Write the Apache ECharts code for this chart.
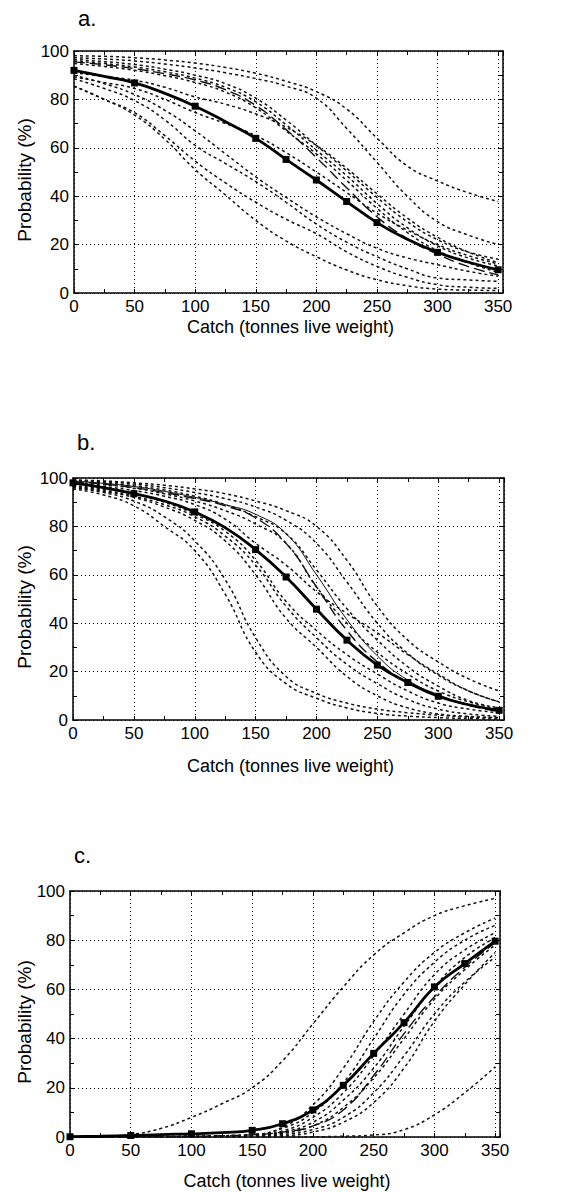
<!DOCTYPE html>
<html>
<head>
<meta charset="utf-8">
<script src="https://cdn.jsdelivr.net/npm/echarts@6/dist/echarts.min.js"></script>
<style>
  html, body { margin: 0; padding: 0; background: #fff; }
  #main { width: 579px; height: 1192px; }
</style>
</head>
<body>
<div id="main"></div>
<script>
// catch levels (tonnes live weight) where curves were read
var catchX = [0, 25, 50, 75, 100, 125, 150, 175, 200, 225, 250, 275, 300, 325, 350];
var xTicks = [0, 50, 100, 150, 200, 250, 300, 350];
var yTicks = [0, 20, 40, 60, 80, 100];
var panelNames = ['a.', 'b.', 'c.'];

// panel a
var mainA = [92, 89.5, 86.8, 82.5, 77.2, 70.8, 63.9, 55.2, 46.7, 37.8, 29.1, 22.2, 16.8, 12.8, 9.6];
var markA = [0, 50, 100, 150, 175, 200, 225, 250, 300, 350];
var dashA = [95.5, 94.3, 92.7, 90.6, 88, 84, 77.5, 67.5, 56, 43.5, 31.5, 22.5, 16, 11, 7.5];
var dottedA = [
  [98, 97.8, 97.2, 96.3, 95, 93.2, 90.8, 87.5, 83.2, 76, 64, 52.5, 46.3, 41.5, 37.8],
  [97.2, 96.7, 95.9, 94.6, 93, 91, 88.6, 85.5, 80.5, 68, 54, 40, 29.5, 24, 20],
  [96.5, 95.6, 94.4, 92.5, 90, 86.5, 80.5, 71.5, 61, 50.5, 39.5, 29.5, 22, 17, 14],
  [95.8, 94.8, 93.4, 91.4, 88.8, 85, 79, 69.5, 59, 48.5, 37, 27, 19.5, 14.5, 11.2],
  [94.8, 93.6, 92, 89.8, 87, 83, 76.5, 67, 57.5, 46.5, 35, 25, 17.5, 12.5, 8.6],
  [91, 89.5, 87.9, 85, 81, 78, 74, 68.5, 61, 51.5, 41, 31, 23, 17, 12.5],
  [89.3, 87, 84.5, 80, 74.6, 70, 65, 58, 50, 41.5, 33, 26, 20, 15.5, 12],
  [90, 86.5, 82, 75.5, 67, 57.5, 48, 39.5, 31.5, 24.5, 18.5, 14.5, 11.7, 9, 6.9],
  [88.5, 84.5, 79.5, 71.5, 61, 53.5, 46, 37.5, 28.5, 21, 15, 10, 6.2, 5.4, 4.8],
  [85.5, 80, 74.5, 65, 54.5, 45.5, 37.5, 30.5, 24.5, 17, 11, 6.5, 3.4, 2.4, 1.9],
  [85.5, 80, 73.5, 63.5, 51, 40.5, 30, 21.5, 15, 9.5, 5.5, 3, 1.6, 1.2, 1]
];

// panel b
var mainB = [98, 96, 93.5, 90.5, 86, 79.5, 70.4, 59.1, 45.8, 33, 22.7, 15.5, 9.8, 6.3, 4];
var markB = [0, 50, 100, 150, 175, 200, 225, 250, 275, 300, 350];
var dashB = [98.5, 97.5, 96, 94, 91.5, 88.5, 83.5, 73, 55, 37, 24, 15.5, 10, 6, 3.5];
var thinB = [98.8, 97.8, 96.5, 94.5, 92, 89, 85, 77, 60, 41.5, 26.5, 16.5, 10.5, 6.5, 4];
var dottedB = [
  [99.2, 98.8, 98, 97, 95.5, 93.5, 90.5, 86.5, 80, 66, 47, 33, 24, 17, 12],
  [99, 98.5, 97.5, 96, 94, 91.5, 88, 82.5, 73, 57, 40, 27.5, 18.5, 12, 7.5],
  [98.8, 98, 96.8, 95, 92.5, 89, 84, 77, 62, 46, 33, 22, 14, 8, 5],
  [98.2, 97.2, 95.8, 93.5, 90.5, 86.5, 81, 73, 55, 40, 28, 19, 12, 7.5, 4.5],
  [97.8, 96.5, 94.8, 92.5, 89, 83, 73, 64, 53, 44, 36, 27, 19, 12, 7.5],
  [96, 94, 90.5, 84, 74, 58, 34, 18, 11, 7, 4.5, 3, 2, 1.2, 0.8],
  [95.5, 93, 88.5, 80, 70, 52, 28, 15, 9, 5, 2.7, 1.6, 1, 0.6, 0.3],
  [97, 95.5, 93.5, 90, 85, 78, 66, 49, 37, 27, 19, 12, 7, 4.5, 3],
  [96.5, 95, 92.5, 89, 84, 76, 64, 47, 34, 23, 15, 8.5, 4.5, 2.5, 1.5],
  [96.2, 94.5, 92, 88, 82.5, 74, 60, 42, 30, 18, 10, 5, 2.5, 1.5, 1]
];

// panel c
var mainC = [0.1, 0.3, 0.6, 1, 1.3, 1.8, 2.7, 5.4, 11, 21, 34, 46.5, 61, 70.5, 79.6];
var markC = [0, 50, 100, 150, 175, 200, 225, 250, 275, 300, 325, 350];
var dashC = [0, 0.05, 0.1, 0.2, 0.3, 0.5, 0.9, 2, 4.5, 11, 25, 42, 57, 69, 79];
var dottedC = [
  [0, 0.2, 1, 3.5, 8, 13.5, 20, 31, 46, 61, 74, 83, 90, 94, 97],
  [0, 0, 0, 0, 0, 0, 0, 0, 0.1, 0.3, 0.8, 3, 9, 18, 28.5],
  [0, 0, 0.1, 0.2, 0.3, 0.5, 1, 4, 13, 28, 47, 63, 75, 83, 89],
  [0, 0, 0.1, 0.2, 0.3, 0.5, 1, 3.5, 10, 22, 40, 58, 71, 80, 86],
  [0, 0, 0, 0.1, 0.2, 0.4, 0.8, 2.5, 8, 18, 33, 50, 66, 76, 83],
  [0, 0, 0, 0.1, 0.2, 0.3, 0.5, 2, 6, 15, 28, 45, 61, 73, 81],
  [0, 0, 0, 0, 0.1, 0.2, 0.4, 1.5, 4.5, 12, 24, 40, 56, 68, 78],
  [0, 0, 0, 0, 0.1, 0.1, 0.2, 1, 3, 8, 18, 33, 50, 63, 73],
  [0, 0, 0, 0, 0, 0.1, 0.1, 0.5, 2, 6, 14, 28, 47, 62, 75]
];

var FONT = '"Liberation Sans", Arial, sans-serif';

// plot boxes
var grids = [
  { left: 74, top: 51, width: 429, height: 242 },
  { left: 73, top: 478, width: 431, height: 242 },
  { left: 70, top: 891, width: 430, height: 246 }
];

var chart = echarts.init(document.getElementById('main'), null, { renderer: 'svg' });

function xAxisFor(gi, pos) {
  var bottom = pos === 'bottom';
  return {
    type: 'value', gridIndex: gi, position: pos,
    min: 0, max: 354, interval: 50,
    axisLine: { show: true, onZero: false, lineStyle: { color: '#000', width: 1.5 } },
    axisTick: { show: true, inside: true, length: 4, lineStyle: { color: '#000', width: 1 } },
    minorTick: { show: true, splitNumber: 2, length: 4, lineStyle: { color: '#000', width: 1 } },
    axisLabel: {
      show: bottom, color: '#000', fontSize: 17, fontFamily: FONT, margin: 5,
      formatter: function (v) { return xTicks.indexOf(v) >= 0 ? String(v) : ''; }
    },
    splitLine: { show: bottom, lineStyle: { color: '#000', width: 1, type: [1, 3] } }
  };
}

function yAxisFor(gi, pos) {
  var left = pos === 'left';
  return {
    type: 'value', gridIndex: gi, position: pos,
    min: 0, max: 100, interval: 20,
    axisLine: { show: true, onZero: false, lineStyle: { color: '#000', width: 1.5 } },
    axisTick: { show: true, inside: true, length: 4, lineStyle: { color: '#000', width: 1 } },
    minorTick: { show: true, splitNumber: 2, length: 4, lineStyle: { color: '#000', width: 1 } },
    axisLabel: {
      show: left, color: '#000', fontSize: 17, fontFamily: FONT, margin: 5,
      formatter: function (v) { return yTicks.indexOf(v) >= 0 ? String(v) : ''; }
    },
    splitLine: { show: left, lineStyle: { color: '#000', width: 1, type: [1, 3] } }
  };
}

function curve(values, gi, lineStyle, z) {
  return {
    type: 'line', xAxisIndex: gi, yAxisIndex: gi,
    data: catchX.map(function (x, i) { return [x, values[i]]; }),
    smooth: 0.5, symbol: 'none',
    lineStyle: lineStyle, z: z || 2, silent: true
  };
}

function mainCurve(values, marks, gi) {
  return {
    type: 'line', xAxisIndex: gi, yAxisIndex: gi,
    data: catchX.map(function (x, i) {
      return { value: [x, values[i]], symbol: marks.indexOf(x) >= 0 ? 'rect' : 'none' };
    }),
    smooth: 0.5, symbolSize: 7, showSymbol: true, showAllSymbol: true,
    itemStyle: { color: '#000' },
    lineStyle: { color: '#000', width: 2.8 }, z: 5, silent: true
  };
}

var dotStyle = { color: '#111', width: 1.5, type: [3, 3] };
var dashStyle = { color: '#111', width: 1.4, type: [11, 5] };

var series = [];
[dottedA, dottedB, dottedC].forEach(function (set, gi) {
  set.forEach(function (vals) { series.push(curve(vals, gi, dotStyle)); });
});
series.push(curve(dashA, 0, dashStyle, 3));
series.push(curve(dashB, 1, dashStyle, 3));
series.push(curve(thinB, 1, { color: '#111', width: 1 }, 3));
series.push(curve(dashC, 2, dashStyle, 3));
series.push(mainCurve(mainA, markA, 0));
series.push(mainCurve(mainB, markB, 1));
series.push(mainCurve(mainC, markC, 2));

var graphic = [];
grids.forEach(function (g, gi) {
  graphic.push({
    type: 'text', left: g.left + 4, top: [7, 431, 844][gi],
    style: { text: panelNames[gi], font: '22px ' + FONT, fill: '#000' }
  });
  graphic.push({
    type: 'text', x: 24, y: g.top + g.height / 2 + 8, rotation: Math.PI / 2,
    style: { text: 'Probability (%)', font: '19px ' + FONT, fill: '#000', textAlign: 'center', textVerticalAlign: 'middle' }
  });
  graphic.push({
    type: 'text', x: g.left + g.width / 2 + 2, y: [327, 766, 1181][gi],
    style: { text: 'Catch (tonnes live weight)', font: '18px ' + FONT, fill: '#000', textAlign: 'center', textVerticalAlign: 'middle' }
  });
});

chart.setOption({
  backgroundColor: '#fff',
  animation: false,
  grid: grids.map(function (g) {
    return { left: g.left, top: g.top, width: g.width, height: g.height, outerBoundsMode: 'none', show: false };
  }),
  xAxis: [xAxisFor(0, 'bottom'), xAxisFor(1, 'bottom'), xAxisFor(2, 'bottom'),
           xAxisFor(0, 'top'), xAxisFor(1, 'top'), xAxisFor(2, 'top')],
  yAxis: [yAxisFor(0, 'left'), yAxisFor(1, 'left'), yAxisFor(2, 'left'),
           yAxisFor(0, 'right'), yAxisFor(1, 'right'), yAxisFor(2, 'right')],
  graphic: graphic,
  series: series
});
</script>
</body>
</html>
